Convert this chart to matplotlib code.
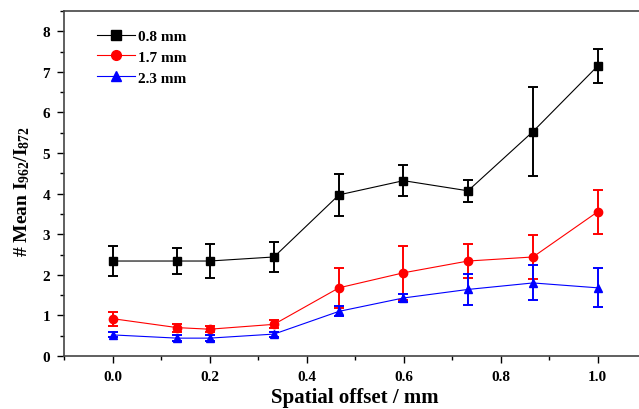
import matplotlib
matplotlib.use("Agg")
import matplotlib.pyplot as plt
from matplotlib.ticker import MultipleLocator
from matplotlib.lines import Line2D

plt.rcParams['font.family'] = ['Liberation Serif', 'DejaVu Serif']
plt.rcParams['font.weight'] = 'bold'
plt.rcParams['mathtext.default'] = 'regular'

offset = [0.0, 0.133, 0.2, 0.333, 0.467, 0.6, 0.733, 0.867, 1.0]

mean_08 = [2.34, 2.34, 2.34, 2.44, 3.97, 4.32, 4.07, 5.53, 7.14]
err_08 = [0.37, 0.33, 0.43, 0.37, 0.52, 0.39, 0.27, 1.09, 0.42]

mean_17 = [0.92, 0.70, 0.66, 0.78, 1.68, 2.05, 2.34, 2.44, 3.55]
err_17 = [0.17, 0.10, 0.08, 0.10, 0.50, 0.66, 0.43, 0.55, 0.54]

mean_23 = [0.52, 0.44, 0.44, 0.54, 1.10, 1.43, 1.64, 1.80, 1.68]
err_23 = [0.06, 0.07, 0.07, 0.06, 0.12, 0.10, 0.39, 0.43, 0.48]

labels = ['0.8 mm', '1.7 mm', '2.3 mm']

fig = plt.figure(figsize=(6.39, 4.10), dpi=100)
ax = fig.add_axes([64/639, (410-357)/410, (646-64)/639, (357-12)/410])

series = [(mean_08, err_08, 'black', 's'),
          (mean_17, err_17, 'red', 'o'),
          (mean_23, err_23, 'blue', '^')]
handles = []
for (m, e, c, mk), lab in zip(series, labels):
    ax.errorbar(offset, m, yerr=e, color=c, marker=mk, markersize=6,
                linewidth=0.8, elinewidth=1.4, capsize=3.5, capthick=1.4)
    handles.append(Line2D([], [], color=c, marker=mk, markersize=7,
                          linewidth=0.8, label=lab))

ax.set_xlim(-0.1, 1.1)
ax.set_ylim(0, 8.5)
ax.xaxis.set_major_locator(MultipleLocator(0.2))
ax.xaxis.set_minor_locator(MultipleLocator(0.1))
ax.yaxis.set_major_locator(MultipleLocator(1))
ax.yaxis.set_minor_locator(MultipleLocator(0.5))
ax.tick_params(which='major', direction='out', length=5, width=1, labelsize=11, pad=5)
ax.tick_params(which='minor', direction='out', length=3, width=1)
ax.xaxis.set_major_formatter(plt.FuncFormatter(lambda v, p: f"{v:.1f}"))
for s in ax.spines.values():
    s.set_linewidth(1.2)
    s.set_color('#444444')

ax.set_xlabel('Spatial offset / mm', fontsize=15, fontweight='bold', labelpad=3)
ax.set_ylabel('# Mean I$_{962}$/I$_{872}$', fontsize=14, fontweight='bold')
ax.yaxis.set_label_coords(-0.055, 0.48)

leg = ax.legend(handles=handles, loc='upper left', frameon=False, fontsize=11,
                handlelength=2.5, handletextpad=0.2, labelspacing=0.47,
                borderaxespad=0, borderpad=0.4,
                bbox_to_anchor=(0.046, 0.965))

fig.savefig('out.png', dpi=100)
